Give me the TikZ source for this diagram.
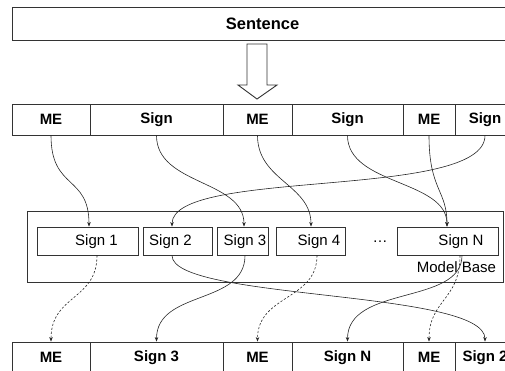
\documentclass[tikz,border=0pt]{standalone}
\usepackage{fontspec}
\setmainfont{Liberation Sans}
\usetikzlibrary{arrows.meta}
\begin{document}
\begin{tikzpicture}[x=1pt,y=-1pt,
  box/.style={draw=black!80,line width=0.9pt,inner sep=0pt,minimum height=#1},
  cell/.style={box=31pt,font=\fontsize{15}{18}\selectfont\bfseries},
  ibox/.style={box=28pt},
  txt/.style={inner sep=0pt,font=\fontsize{15}{18}\selectfont},
  link/.style={draw=black!85,line width=0.6pt,-{Stealth[length=4.5pt,width=3.5pt]}},
  dlink/.style={link,dash pattern=on 2.2pt off 1.8pt}]
\useasboundingbox (0,0) rectangle (505,370);
\clip (0,0) rectangle (505,370);

% input sentence
\node[box=33pt,minimum width=501pt,font=\fontsize{16.5}{19}\selectfont\bfseries]
  (sent) at (262.5,23.5) {Sentence};

% hollow block arrow
\draw[draw=black!80,line width=0.9pt,fill=white]
  (247,44) -- (267,44) -- (267,85) -- (277,85) -- (257,99) -- (238,85) -- (247,85) -- cycle;

% segmented sentence
\node[cell,minimum width=78pt]  (t1) at (51,119.5)    {ME};
\node[cell,minimum width=133pt] (t2) at (156.5,119.5) {Sign};
\node[cell,minimum width=69pt]  (t3) at (257.5,119.5) {ME};
\node[cell,minimum width=111pt] (t4) at (347.5,119.5) {Sign};
\node[cell,minimum width=52pt]  (t5) at (429,119.5)   {ME};
\node[cell,minimum width=60pt]  (t6) at (485,119.5)   {Sign};

% model base with its signs
\node[box=71pt,minimum width=476pt] (mb) at (265,246.5) {};
\node[ibox,minimum width=101pt] (s1) at (87.5,241)  {};
\node[ibox,minimum width=69pt]  (s2) at (177.5,241) {};
\node[ibox,minimum width=51pt]  (s3) at (242.5,241) {};
\node[ibox,minimum width=69pt]  (s4) at (310.5,241) {};
\node[ibox,minimum width=101pt] (sN) at (447.5,241) {};
\node[txt] (l1) at (96.5,242)  {Sign 1};
\node[txt] (l2) at (170.5,242) {Sign 2};
\node[txt] (l3) at (245,242)   {Sign 3};
\node[txt] (l4) at (319,242)   {Sign 4};
\node[txt] (dots) at (380,242) {\dots};
\node[txt] (lN) at (461,242)   {Sign N};
\node[txt] (mbl) at (456.5,267) {Model Base};

% rewritten sentence
\node[cell,minimum width=78pt]  (b1) at (51,357.5)    {ME};
\node[cell,minimum width=133pt] (b2) at (156.5,357.5) {Sign 3};
\node[cell,minimum width=69pt]  (b3) at (257.5,357.5) {ME};
\node[cell,minimum width=111pt] (b4) at (347.5,357.5) {Sign N};
\node[cell,minimum width=52pt]  (b5) at (429,357.5)   {ME};
\node[cell,minimum width=60pt]  (b6) at (485,357.5)   {Sign 2};

% lookups into the model base
\draw[link] (t1.south) .. controls +(0,55) and +(0,-52) .. ([xshift=1.5pt]s1.north);
\draw[link] (t2.south) .. controls +(0,50) and +(0,-47) .. ([xshift=1.5pt]s3.north);
\draw[link] (t3.south) .. controls +(0,45) and +(0,-42) .. ([xshift=0.5pt]s4.north);
\draw[link] (t4.south) .. controls +(0,50) and +(0,-47) .. ([xshift=-0.5pt]sN.north);
\draw[link] (t5.south) .. controls +(0,55) and +(0,-37) .. ([xshift=-0.5pt]sN.north);
\draw[link] (t6.south) .. controls +(0,65) and +(0,-59) .. ([xshift=-5.5pt]s2.north);

% output of the model base
\draw[dlink] ([xshift=9.5pt]s1.south) .. controls +(0,45) and +(0,-47) .. (b1.north);
\draw[dlink] ([xshift=6.5pt]s4.south) .. controls +(0,45) and +(0,-47) .. (b3.north);
\draw[dlink] ([xshift=12.5pt]sN.south) .. controls +(0,45) and +(0,-42) .. (b5.north);
\draw[link] ([xshift=2.5pt]s3.south) .. controls +(0,50) and +(0,-52) .. (b2.north);
\draw[link] ([xshift=14.5pt]sN.south) .. controls +(0,50) and +(0,-57) .. (b4.north);
\draw[link] ([xshift=-5.5pt]s2.south) .. controls +(0,45) and +(0,-52) .. (b6.north);
\end{tikzpicture}
\end{document}
